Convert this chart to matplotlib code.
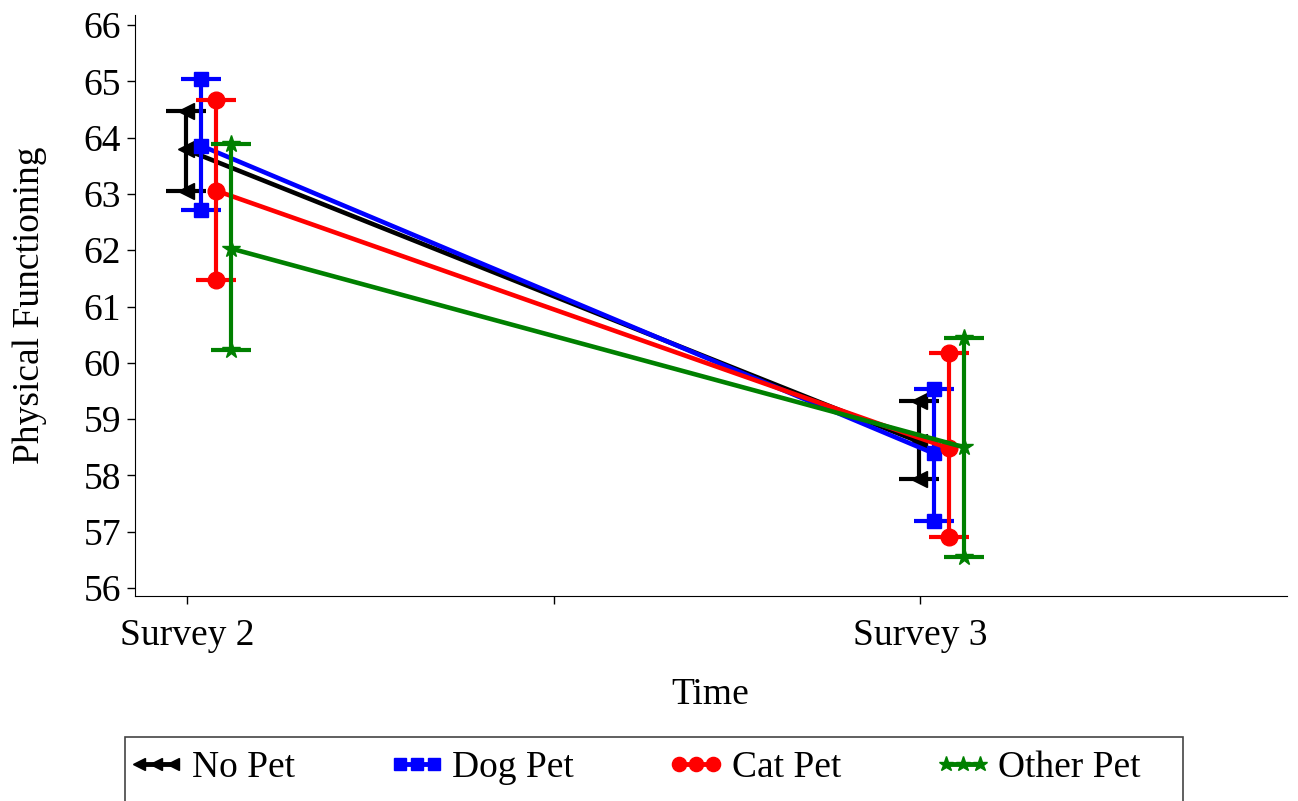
import numpy as np
import matplotlib.pyplot as plt
from matplotlib.lines import Line2D
from matplotlib.patches import Rectangle

plt.rcParams['font.family'] = ['Liberation Serif', 'DejaVu Serif']

# data
groups = ["No Pet", "Dog Pet", "Cat Pet", "Other Pet"]
times = ["Survey 2", "Survey 3"]
mean_s2 = [63.79, 63.86, 63.06, 62.03]
upper_s2 = [64.48, 65.05, 64.67, 63.88]
lower_s2 = [63.06, 62.72, 61.48, 60.23]
mean_s3 = [58.60, 58.39, 58.48, 58.50]
upper_s3 = [59.33, 59.54, 60.17, 60.45]
lower_s3 = [57.94, 57.19, 56.90, 56.56]

colors = ["black", "#0000ff", "#ff0000", "#008000"]
markers = ["<", "s", "o", "*"]
msizes = [11, 10, 12, 13]

fig = plt.figure(figsize=(12.98, 8.01), dpi=100)
ax = fig.add_axes([0.104, 0.256, 0.8875, 0.7254])

xpos = np.arange(len(times))
handles = []
for i, g in enumerate(groups):
    off = (i - 0.1) * 0.0207
    x = xpos + off
    m = np.array([mean_s2[i], mean_s3[i]])
    lo = np.array([lower_s2[i], lower_s3[i]])
    hi = np.array([upper_s2[i], upper_s3[i]])
    ax.plot(x, m, color=colors[i], lw=3.3, zorder=2 + i)
    ax.errorbar(x, m, yerr=[m - lo, hi - m], fmt="none", ecolor=colors[i],
                elinewidth=3, capsize=14.5, capthick=3, zorder=2 + i)
    # markers at mean and at both ends of the bar
    xs = np.concatenate([x, x, x])
    ys = np.concatenate([m, lo, hi])
    ax.plot(xs, ys, ls="none", marker=markers[i], ms=msizes[i],
            color=colors[i], zorder=2 + i)
    handles.append(Line2D([0], [0], color=colors[i], lw=3.5, marker=markers[i],
                          ms=msizes[i] * 0.85, label=g))

ax.set_xlim(-0.071, 1.5)
ax.set_ylim(55.86, 66.18)
ax.set_xticks([0, 0.5, 1])
ax.set_xticklabels([times[0], "", times[1]])
ax.set_yticks(np.arange(56, 67, 1))
ax.tick_params(axis="both", labelsize=27, length=6, width=1)
ax.tick_params(axis="x", pad=10)
ax.tick_params(axis="y", pad=4)
for s in ["top", "right"]:
    ax.spines[s].set_visible(False)

fig.text(30 / 1298, 1 - 305 / 801, "Physical Functioning", rotation=90,
         ha="center", va="center", fontsize=27)
fig.text(710 / 1298, 1 - 695 / 801, "Time", ha="center", va="center",
         fontsize=27)

leg = fig.legend(handles=handles, loc="upper left", ncol=4,
                 bbox_to_anchor=(115 / 1298, 1 - 737 / 801), fontsize=27,
                 numpoints=3, handlelength=1.5, handletextpad=0.2,
                 columnspacing=2.5, frameon=False, borderpad=0.35,
                 borderaxespad=0)

# legend box, wider than the entries
fig.patches.append(Rectangle((125 / 1298, -0.05), (1183 - 125) / 1298,
                             0.05 + 1 - 737 / 801, transform=fig.transFigure,
                             fill=False, edgecolor="#444444", lw=1.2))

fig.savefig("out.png", dpi=100)
